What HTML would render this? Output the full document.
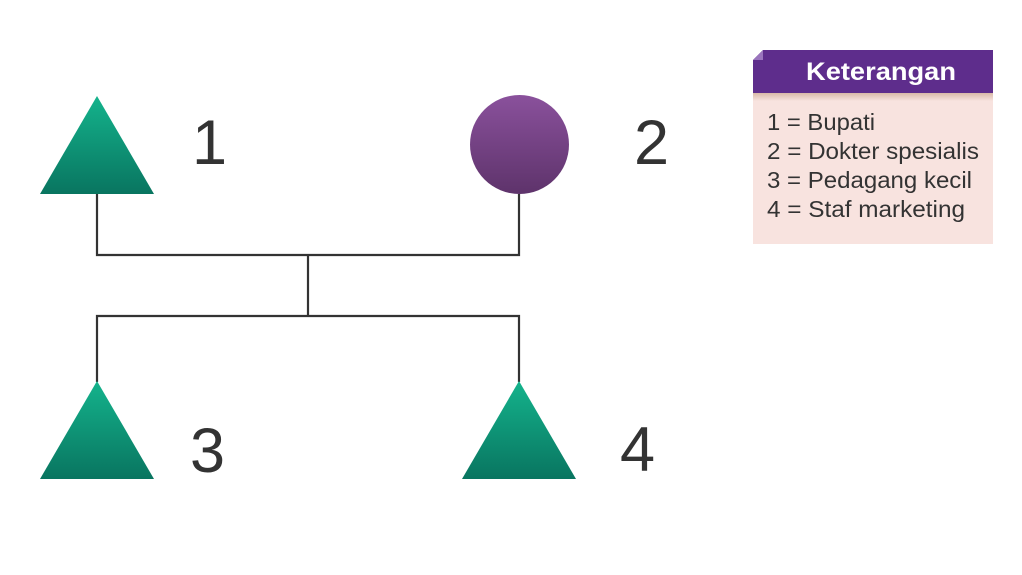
<!DOCTYPE html>
<html><head><style>
html,body{margin:0;padding:0;background:#fff;width:1022px;height:575px;overflow:hidden}
</style></head><body>
<svg width="1022" height="575" xmlns="http://www.w3.org/2000/svg" style="position:absolute;left:0;top:0">
<defs>
<linearGradient id="g" x1="0" y1="0" x2="0" y2="1"><stop offset="0" stop-color="#14b38c"/><stop offset="1" stop-color="#097560"/></linearGradient>
<linearGradient id="p" x1="0" y1="0" x2="0" y2="1"><stop offset="0" stop-color="#8a519c"/><stop offset="1" stop-color="#5e336b"/></linearGradient>
<linearGradient id="sh" x1="0" y1="0" x2="0" y2="1"><stop offset="0" stop-color="#d9b9a8"/><stop offset="1" stop-color="#f8e3df"/></linearGradient>
</defs>
<g stroke="#333" stroke-width="2.2" fill="none">
<polyline points="97,194 97,255 519,255 519,194"/>
<line x1="308" y1="255" x2="308" y2="316"/>
<polyline points="97,382 97,316 519,316 519,382"/>
</g>
<polygon points="97,96 154,194 40,194" fill="url(#g)"/>
<circle cx="519.5" cy="144.5" r="49.5" fill="url(#p)"/>
<polygon points="97,381 154,479 40,479" fill="url(#g)"/>
<polygon points="519,381 576,479 462,479" fill="url(#g)"/>
<g font-family="Liberation Sans, sans-serif" font-size="63" fill="#333">
<text x="192" y="164">1</text>
<text x="634" y="164">2</text>
<text x="190" y="472">3</text>
<text x="620" y="471">4</text>
</g>
<rect x="753" y="93" width="240" height="151" fill="#f8e3df"/>
<rect x="753" y="93" width="240" height="8" fill="url(#sh)"/>
<polygon points="763,50 993,50 993,93 753,93 753,60" fill="#5e2d8c"/>
<polygon points="753,60 763,50 763,60" fill="#9a75bd"/>
<text x="806" y="80" textLength="150" lengthAdjust="spacingAndGlyphs" font-family="Liberation Sans, sans-serif" font-weight="bold" font-size="25" fill="#fff">Keterangan</text>
<g font-family="Liberation Sans, sans-serif" font-size="23" fill="#333" lengthAdjust="spacingAndGlyphs">
<text x="767" y="130" textLength="108" lengthAdjust="spacingAndGlyphs">1 = Bupati</text>
<text x="767" y="159" textLength="212" lengthAdjust="spacingAndGlyphs">2 = Dokter spesialis</text>
<text x="767" y="188" textLength="205" lengthAdjust="spacingAndGlyphs">3 = Pedagang kecil</text>
<text x="767" y="217" textLength="198" lengthAdjust="spacingAndGlyphs">4 = Staf marketing</text>
</g>
</svg>
</body></html>
